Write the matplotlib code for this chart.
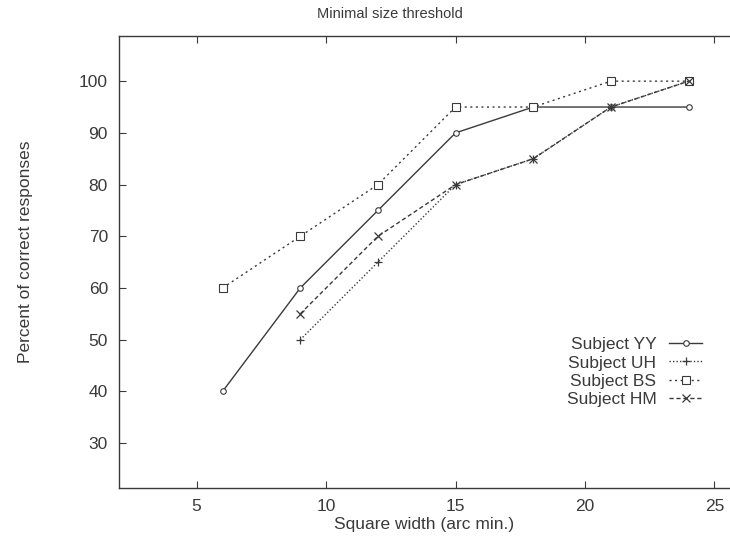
import matplotlib
matplotlib.use("Agg")
import matplotlib.pyplot as plt

# Square width (arc min.) and percent correct per subject
widths = [6, 9, 12, 15, 18, 21, 24]
yy = [40, 60, 75, 90, 95, 95, 95]
uh_x = [9, 12, 15, 18, 21, 24]
uh = [50, 65, 80, 85, 95, 100]
bs = [60, 70, 80, 95, 95, 100, 100]
hm_x = [9, 12, 15, 18, 21, 24]
hm = [55, 70, 80, 85, 95, 100]

plt.rcParams['font.family'] = ['Liberation Sans', 'DejaVu Sans']
ink = '#3a3a3a'

fig = plt.figure(figsize=(7.3, 5.4), dpi=100)
ax = fig.add_axes([0.163, 0.096, 0.837, 0.837])

ax.plot(widths, yy, color=ink, lw=1.0, ls='-', marker='o', ms=4,
        mfc='white', mec=ink, mew=0.8, label='Subject YY')
ax.plot(uh_x, uh, color=ink, lw=1.0, ls=(0, (1, 1.5)), marker='+', ms=6,
        mew=0.9, label='Subject UH')
ax.plot(widths, bs, color=ink, lw=1.0, ls=(0, (1.5, 2.5)), marker='s', ms=6,
        mfc='white', mec=ink, mew=0.8, label='Subject BS')
ax.plot(hm_x, hm, color=ink, lw=1.0, ls=(0, (3, 2)), marker='x', ms=6,
        mew=0.9, label='Subject HM')

ax.set_xlim(2.0, 25.6)
ax.set_ylim(21.3, 108.7)
ax.set_xticks([5, 10, 15, 20, 25])
ax.set_yticks([30, 40, 50, 60, 70, 80, 90, 100])
ax.tick_params(direction='in', length=5, width=0.8, colors=ink,
               labelsize=12.5, top=True, right=False, pad=8)
ax.tick_params(axis='x', pad=8)
for side in ['left', 'bottom', 'top']:
    ax.spines[side].set_color(ink)
    ax.spines[side].set_linewidth(1.0)
ax.spines['right'].set_visible(False)

ax.set_title('Minimal size threshold', fontsize=10.5, color=ink, x=0.4435, y=1.0, pad=13)
ax.set_xlabel('Square width (arc min.)', fontsize=12.5, color=ink)
ax.xaxis.set_label_coords(0.5, -0.064)
ax.set_ylabel('Percent of correct responses', fontsize=12.5, color=ink)
ax.yaxis.set_label_coords(-0.140, 0.524)

leg = ax.legend(loc='upper right', bbox_to_anchor=(0.966, 0.35), frameon=False,
                markerfirst=False, fontsize=12.5, handlelength=1.9,
                labelspacing=0.19, handletextpad=0.75, borderaxespad=0)
for t in leg.get_texts():
    t.set_color(ink)
    t.set_ha('right')

fig.savefig('out.png', dpi=100)
